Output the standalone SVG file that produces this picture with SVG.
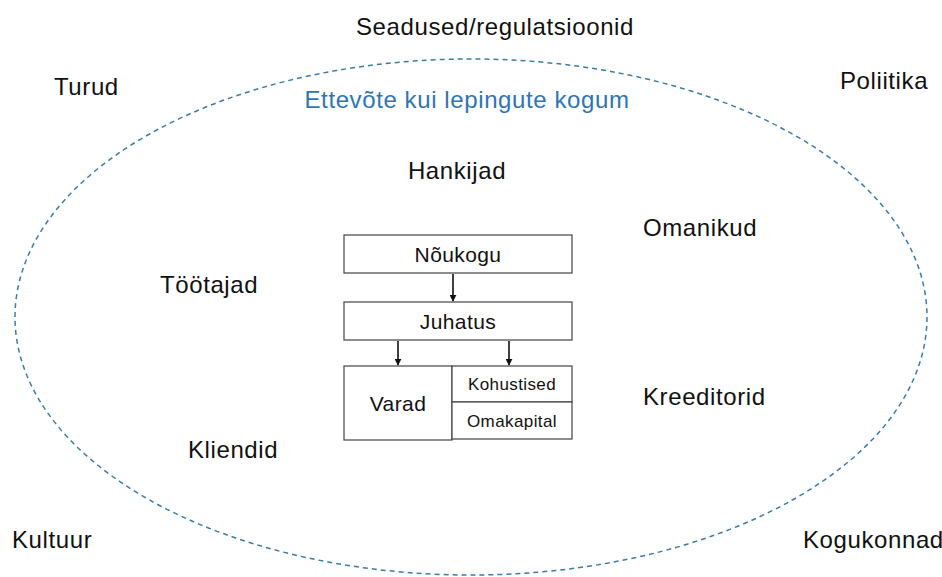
<svg xmlns="http://www.w3.org/2000/svg" width="942" height="577" viewBox="0 0 942 577">
<style>
.t{font-family:"Liberation Sans",Arial,sans-serif;font-size:24px;letter-spacing:0.6px;fill:#111}
.b{fill:#fff;stroke:#444;stroke-width:1.2}
.bt{font-family:"Liberation Sans",Arial,sans-serif;font-size:21px;letter-spacing:0.4px;fill:#111;text-anchor:middle}
.st{font-family:"Liberation Sans",Arial,sans-serif;font-size:17px;letter-spacing:0.4px;fill:#111;text-anchor:middle}
.c{stroke:#111;stroke-width:1.6;fill:none;marker-end:url(#ah)}
</style>
<defs>
<marker id="ah" viewBox="0 0 10 10" refX="9" refY="5" markerWidth="7" markerHeight="7" markerUnits="userSpaceOnUse" orient="auto"><path d="M0,0L10,5L0,10z" fill="#111"/></marker>
</defs>
<rect width="942" height="577" fill="#fff"/>
<g id="boundary">
<ellipse cx="471" cy="317" rx="456" ry="258" fill="none" stroke="#3A7EA8" stroke-width="1.5" stroke-dasharray="5,4"/>
<text x="467" y="108" text-anchor="middle" style="font-family:'Liberation Sans',Arial,sans-serif;font-size:24px;letter-spacing:0.6px;fill:#2E75B6">Ettevõte kui lepingute kogum</text>
</g>
<g id="env">
<text class="t" x="495" y="35" text-anchor="middle">Seadused/regulatsioonid</text>
<text class="t" x="54" y="95">Turud</text>
<text class="t" x="840" y="89">Poliitika</text>
<text class="t" x="12" y="548">Kultuur</text>
<text class="t" x="803" y="548">Kogukonnad</text>
</g>
<g id="stakeholders">
<text class="t" x="457" y="179" text-anchor="middle">Hankijad</text>
<text class="t" x="643" y="236">Omanikud</text>
<text class="t" x="160" y="293">Töötajad</text>
<text class="t" x="643" y="405">Kreeditorid</text>
<text class="t" x="188" y="458">Kliendid</text>
</g>
<g id="noukogu"><rect class="b" x="344" y="235" width="228" height="38"/><text class="bt" x="458" y="262">Nõukogu</text></g>
<g id="juhatus"><rect class="b" x="344" y="302" width="228" height="38"/><text class="bt" x="458" y="329">Juhatus</text></g>
<g id="varad"><rect class="b" x="344" y="366" width="108" height="74"/><text class="bt" x="398" y="411">Varad</text></g>
<g id="kohustised"><rect class="b" x="452" y="366" width="120" height="36"/><text class="st" x="512" y="390">Kohustised</text></g>
<g id="omakapital"><rect class="b" x="452" y="402" width="120" height="37"/><text class="st" x="512" y="427">Omakapital</text></g>
<g id="connectors">
<path class="c" d="M453,274V301"/>
<path class="c" d="M398,341V365"/>
<path class="c" d="M509,341V365"/>
</g>
</svg>
